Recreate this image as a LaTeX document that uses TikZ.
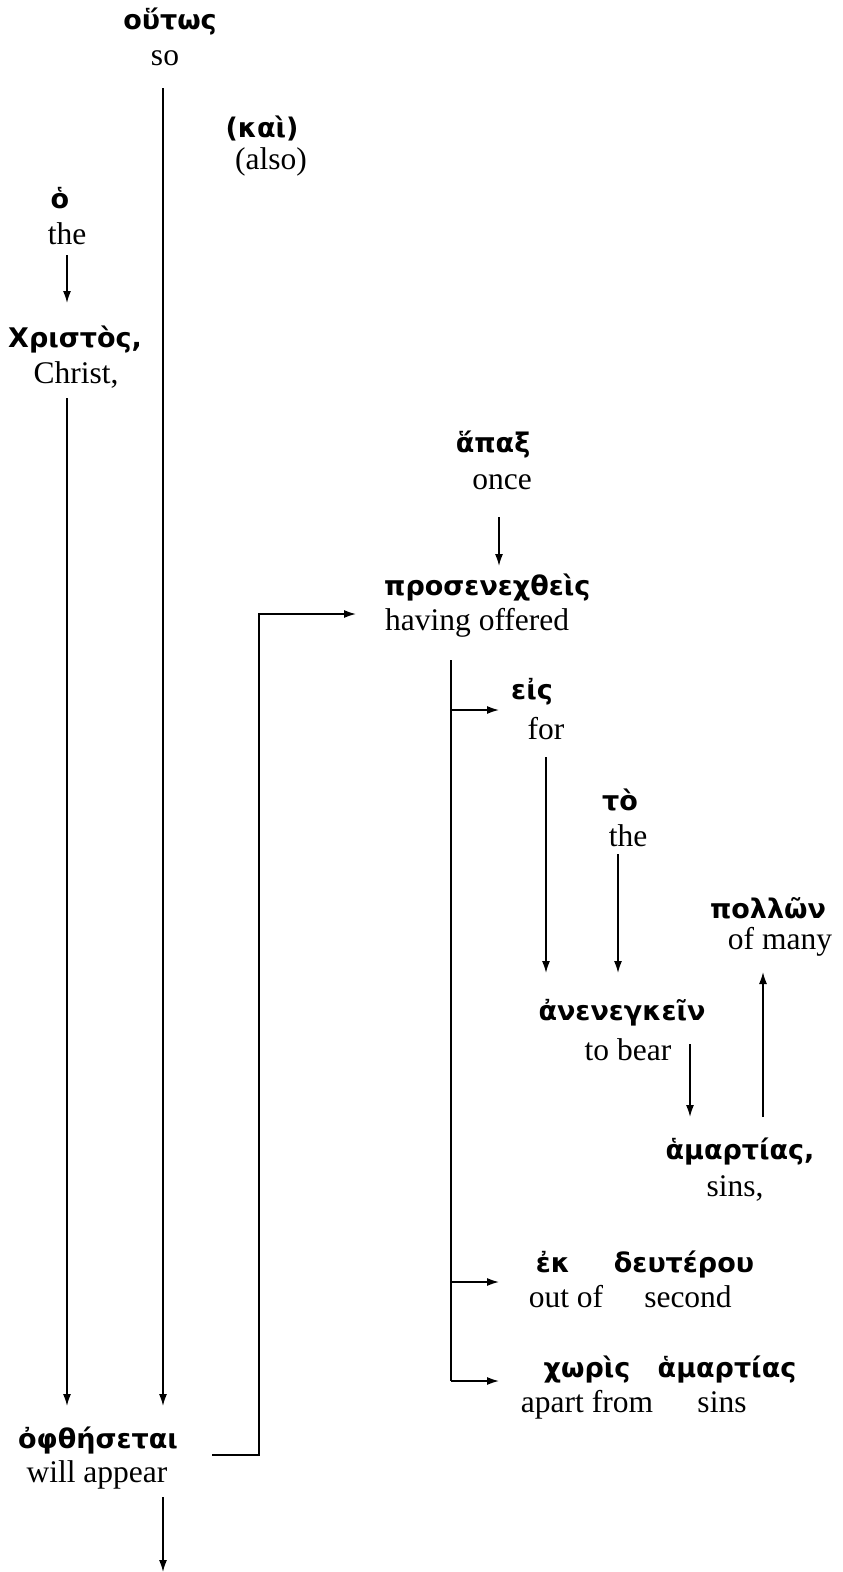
\documentclass[tikz,border=0pt]{standalone}
\usepackage{fontspec}
\setmainfont{Liberation Serif}
\newfontfamily\gkfont{DejaVu Sans}
\usetikzlibrary{arrows.meta}
\begin{document}
\begin{tikzpicture}[x=1pt,y=-1pt,
  gk/.style={inner sep=0pt,font=\gkfont\bfseries\fontsize{27}{32}\selectfont},
  en/.style={inner sep=0pt,font=\fontsize{31.5}{36}\selectfont},
  arr/.style={line width=1.5pt,-{Latex[length=12pt,width=8pt]}},
  ln/.style={line width=1.5pt}]
\useasboundingbox (0,0) rectangle (843,1572);
% nodes
\node[gk] (outos) at (170,22) {οὕτως};
\node[en] (so) at (165,58) {so};
\node[gk] (kai) at (262,128) {(καὶ)};
\node[en] (also) at (271,162) {(also)};
\node[gk] (ho) at (60,198) {ὁ};
\node[en] (the1) at (67,234) {the};
\node[gk,anchor=west] (christos) at (8,340) {Χριστὸς,};
\node[en] (christ) at (76,375) {Christ,};
\node[gk] (hapax) at (493,445) {ἅπαξ};
\node[en] (once) at (502,482) {once};
\node[gk,anchor=west] (pros) at (384,588) {προσενεχθεὶς};
\node[en,anchor=west] (having) at (385,623) {having offered};
\node[gk] (eis) at (532,692) {εἰς};
\node[en] (for) at (546,729) {for};
\node[gk] (to) at (620,800) {τὸ};
\node[en] (the2) at (628,836) {the};
\node[gk] (pollon) at (768,908) {πολλῶν};
\node[en] (many) at (780,942) {of many};
\node[gk] (anen) at (622,1013) {ἀνενεγκεῖν};
\node[en] (bear) at (628,1050) {to bear};
\node[gk] (ham1) at (740,1152) {ἁμαρτίας,};
\node[en] (sins1) at (735,1188) {sins,};
\node[gk,anchor=base] (ek) at (553,1272) {ἐκ};
\node[gk,anchor=base] (deut) at (684,1272) {δευτέρου};
\node[en,anchor=base] (outof) at (566,1307) {out of};
\node[en,anchor=base] (second) at (688,1307) {second};
\node[gk,anchor=base] (choris) at (587,1377) {χωρὶς};
\node[gk,anchor=base] (ham2) at (727,1377) {ἁμαρτίας};
\node[en,anchor=base] (apart) at (587,1412) {apart from};
\node[en,anchor=base] (sins2) at (722,1412) {sins};
\node[gk] (ophth) at (98,1440) {ὀφθήσεται};
\node[en] (appear) at (97,1475) {will appear};
% connector end points
\coordinate (so-s) at (163,88);
\coordinate (so-e) at (163,1406);
\coordinate (the1-s) at (67,255);
\coordinate (the1-e) at (67,303);
\coordinate (christ-s) at (67,398);
\coordinate (christ-e) at (67,1406);
\coordinate (once-s) at (499,517);
\coordinate (once-e) at (499,566);
\coordinate (oph-s) at (212,1455);
\coordinate (oph-c) at (259,1455);
\coordinate (pros-in) at (356,614);
\coordinate (br-top) at (451,660);
\coordinate (br-1) at (451,710);
\coordinate (br-2) at (451,1282);
\coordinate (br-3) at (451,1381);
\coordinate (eis-in) at (499,710);
\coordinate (ek-in) at (499,1282);
\coordinate (ch-in) at (499,1381);
\coordinate (for-s) at (546,757);
\coordinate (for-e) at (546,973);
\coordinate (the2-s) at (618,854);
\coordinate (the2-e) at (618,973);
\coordinate (bear-s) at (690,1044);
\coordinate (bear-e) at (690,1117);
\coordinate (ham-s) at (763,1117);
\coordinate (ham-e) at (763,972);
\coordinate (app-s) at (163,1497);
\coordinate (app-e) at (163,1572);
% connectors
\draw[arr] (so-s) -- (so-e);
\draw[arr] (the1-s) -- (the1-e);
\draw[arr] (christ-s) -- (christ-e);
\draw[arr] (once-s) -- (once-e);
\draw[arr] (oph-s) -- (oph-c) |- (pros-in);
\draw[ln] (br-top) -- (br-3);
\draw[arr] (br-1) -- (eis-in);
\draw[arr] (br-2) -- (ek-in);
\draw[arr] (br-3) -- (ch-in);
\draw[arr] (for-s) -- (for-e);
\draw[arr] (the2-s) -- (the2-e);
\draw[arr] (bear-s) -- (bear-e);
\draw[arr] (ham-s) -- (ham-e);
\draw[arr] (app-s) -- (app-e);
\end{tikzpicture}
\end{document}
